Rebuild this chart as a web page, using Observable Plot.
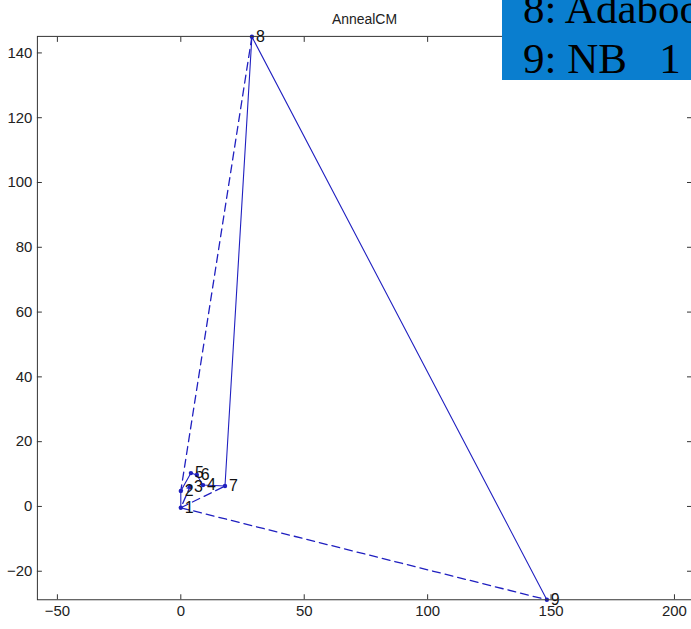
<!DOCTYPE html>
<html>
<head>
<meta charset="utf-8">
<script src="https://cdn.jsdelivr.net/npm/d3@7"></script>
<script src="https://cdn.jsdelivr.net/npm/@observablehq/plot@0.6"></script>
<style>
  body { margin: 0; background: white; }
  #wrap { position: relative; width: 691px; height: 629px; overflow: hidden; }
  #box {
    position: absolute; left: 502px; top: 0; width: 189px; height: 80px;
    background: #0a7ecf; overflow: hidden;
  }
  #box div {
    position: absolute; left: 21px; top: -16px;
    font-family: "Liberation Serif", "Times New Roman", serif;
    font-size: 43px; line-height: 50px; color: #000; white-space: pre;
  }
</style>
</head>
<body>
<div id="wrap">
  <div id="chart"></div>
  <div id="box"><div>8: Adaboost
9: NB   1</div></div>
</div>
<script>
const title = "AnnealCM";
const ids = ["1", "2", "3", "4", "5", "6", "7", "8", "9"];
const xs  = [0, 0, 3.7, 9.0, 4.1, 6.5, 17.9, 28.8, 148.3];
const ys  = [-0.4, 4.8, 6.0, 6.6, 10.3, 9.7, 6.3, 145, -28.8];
const solidPaths  = [["1", "2", "5", "6", "4", "7", "8", "9"]];
const dashedPaths = [["8", "2", "3", "1", "9"], ["1", "7"]];
const xTicks = [-50, 0, 50, 100, 150, 200];
const yTicks = [-20, 0, 20, 40, 60, 80, 100, 120, 140];

const points = ids.map((id, i) => ({id, x: xs[i], y: ys[i]}));
const byId = new Map(points.map(p => [p.id, p]));
const toRows = paths => paths.flatMap((p, k) => p.map(id => ({...byId.get(id), path: k})));

const blue = "#2020c0";
const axisColor = "#333";

const chart = Plot.plot({
  width: 693, height: 629,
  marginLeft: 37, marginTop: 36, marginBottom: 28, marginRight: 0,
  style: {fontFamily: "'Liberation Sans', Arial, sans-serif", fontSize: "15px", background: "white", color: "#222"},
  x: {domain: [-58.1, 206.9]},
  y: {domain: [-28.8, 145.1]},
  marks: [
    Plot.line(toRows(solidPaths), {x: "x", y: "y", z: "path", stroke: blue, strokeWidth: 1.1}),
    Plot.line(toRows(dashedPaths), {x: "x", y: "y", z: "path", stroke: blue, strokeWidth: 1.3, strokeDasharray: "8,5"}),
    Plot.dot(points, {x: "x", y: "y", r: 2.2, fill: blue}),
    Plot.text(points, {x: "x", y: "y", text: "id", dx: 4, textAnchor: "start", fill: "#111", fontSize: 16}),
    Plot.frame({stroke: axisColor}),
    Plot.axisX(xTicks, {anchor: "bottom", tickSize: 0, tickPadding: 6, label: null, fontSize: 15}),
    Plot.axisY(yTicks, {anchor: "left", tickSize: 0, tickPadding: 5, label: null, fontSize: 15}),
    Plot.axisX(xTicks, {anchor: "bottom", tickSize: -5, tickFormat: () => "", label: null, stroke: axisColor}),
    Plot.axisX(xTicks, {anchor: "top", tickSize: -5, tickFormat: () => "", label: null, stroke: axisColor}),
    Plot.axisY(yTicks, {anchor: "left", tickSize: -5, tickFormat: () => "", label: null, stroke: axisColor}),
    Plot.axisY(yTicks, {anchor: "right", tickSize: -5, tickFormat: () => "", label: null, stroke: axisColor}),
    Plot.text([title], {frameAnchor: "top", dy: -22, fontSize: 14, fill: "#222"})
  ]
});
document.getElementById("chart").appendChild(chart);
</script>
</body>
</html>
